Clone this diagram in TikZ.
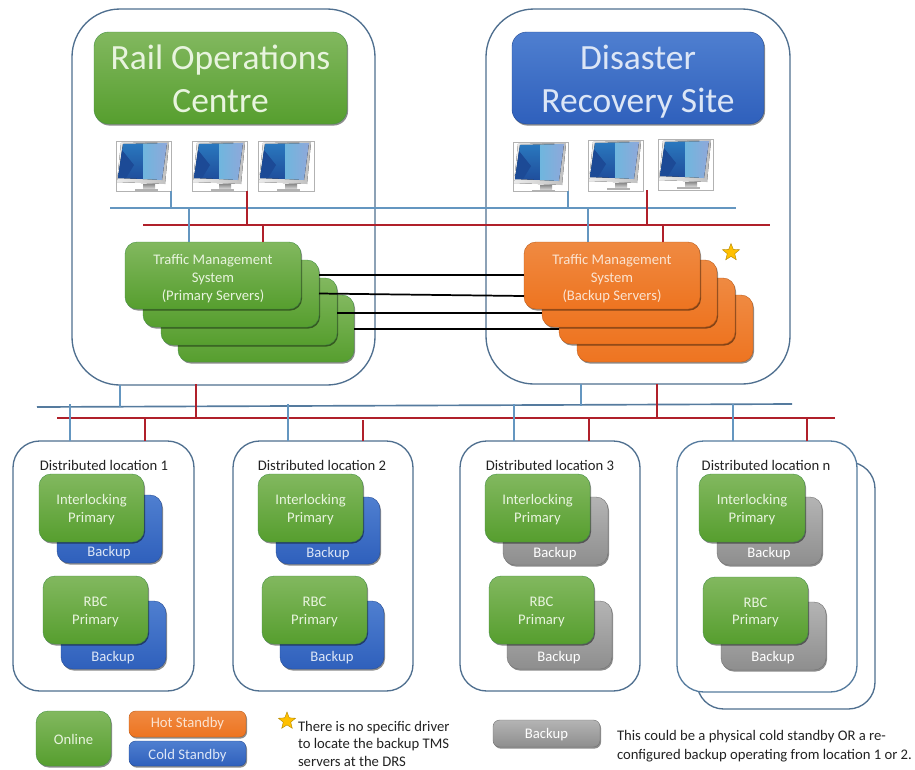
\documentclass[tikz,border=0pt]{standalone}
\usepackage{fontspec}
\setmainfont{Carlito}
\usetikzlibrary{shadows,shapes.geometric}
\definecolor{edgeb}{HTML}{4F6F8F}
\definecolor{busblue}{HTML}{6496C0}
\definecolor{busred}{HTML}{B0202A}
\definecolor{gtxt}{HTML}{E8F4DE}
\definecolor{otxt}{HTML}{FBE3D0}
\definecolor{btxt}{HTML}{DCE6F6}
\definecolor{dtxt}{HTML}{222222}
\definecolor{green1}{HTML}{82B85F}
\definecolor{green2}{HTML}{569E2E}
\definecolor{orange1}{HTML}{EF8A42}
\definecolor{orange2}{HTML}{EE7420}
\definecolor{blue1}{HTML}{4F7FD0}
\definecolor{blue2}{HTML}{2F60BC}
\definecolor{gray1}{HTML}{B4B4B4}
\definecolor{gray2}{HTML}{8E8E8E}
\definecolor{gold}{HTML}{FFC000}
\definecolor{scrA}{HTML}{2A78BE}
\definecolor{scrB}{HTML}{1F4E9C}
\definecolor{scrC}{HTML}{6FB6DE}
\definecolor{scrD}{HTML}{8FA8DA}
\definecolor{scrE}{HTML}{1C4A96}
\tikzset{
  x=0.75pt,y=-0.75pt,
  base/.style={rounded corners=9pt,inner sep=0pt,outer sep=0pt,align=center,
    drop shadow={shadow xshift=0.8pt,shadow yshift=-1.2pt,opacity=0.45,fill=black}},
  green/.style={base,draw=black!35!green!45!gray,line width=0.3pt,top color=green1,bottom color=green2,text=gtxt},
  orange/.style={base,draw=orange2!80!black,line width=0.3pt,top color=orange1,bottom color=orange2,text=otxt},
  cblue/.style={base,draw=blue2!80!black,line width=0.3pt,top color=blue1,bottom color=blue2,text=btxt},
  cgray/.style={base,draw=gray2!80!black,line width=0.3pt,top color=gray1,bottom color=gray2,text=white},
  site/.style={draw=edgeb,line width=1pt,rounded corners=36pt,fill=white,inner sep=0pt,outer sep=0pt},
  loc/.style={draw=edgeb,line width=1pt,rounded corners=20pt,fill=white,inner sep=0pt,outer sep=0pt},
  bblue/.style={draw=busblue,line width=1.25pt},
  bred/.style={draw=busred,line width=1.25pt},
  tie/.style={draw=black,line width=1.3pt},
  lab/.style={inner sep=0pt,outer sep=0pt,align=center},
  monframe/.style={draw=black!30,line width=0.4pt,fill=white,inner sep=0pt,outer sep=0pt},
  starn/.style={star,star points=5,star point ratio=2.3,fill=gold,draw=gold!70!black,line width=0.3pt,minimum size=13.5pt,inner sep=0pt},
  tfont/.style={font=\fontsize{26.6}{32.5}\selectfont},
  mfont/.style={font=\fontsize{11}{13.5}\selectfont},
  sfont/.style={font=\fontsize{11}{13}\selectfont},
}
\newcommand\bx[7]{\node[#6,minimum width={(#4-#2)*0.75pt},minimum height={(#5-#3)*0.75pt}] (#1) at ({(#2+#4)/2},{(#3+#5)/2}) {#7};}
\newcommand\vlink[4]{\draw[#1] ([xshift=#3*0.75pt]#2) -- ([xshift=#3*0.75pt]#2 |- #4);}
\newcommand\tsup{\rule{0pt}{25.5pt}}
\newcommand\tsdn{\rule[-6.5pt]{0pt}{0pt}}
\newcommand\msup{\rule{0pt}{15pt}}
\newcommand\isup{\rule{0pt}{13pt}}
\newcommand\msdn{\rule[-4.5pt]{0pt}{0pt}}
\newcommand\monitor[5]{%
  \bx{#1}{#2}{#3}{#4}{#5}{monframe}{}
  \begin{scope}[shift={(#1.north west)}]
    \fill[left color=black!8,right color=black!25] (5,2) -- (53,1) -- (49,43) -- (1,41) -- cycle;
    \fill[top color=black!45,bottom color=black!20] (27,43) -- (39,43) -- (39,47) -- (27,47) -- cycle;
    \fill[black!30] (19,48) -- (42,48) -- (42,49.5) -- (19,49.5) -- cycle;
    \fill[top color=scrA,bottom color=scrB] (7,3) -- (27,2.6) -- (27,38) -- (2,37) -- cycle;
    \fill[left color=scrC,right color=scrD] (27,2.6) -- (51,2) -- (46,39) -- (27,38) -- cycle;
    \fill[scrE] (6,9) -- (18,24) -- (10,37.2) -- (2.2,37) -- cycle;
  \end{scope}}
\begin{document}
\begin{tikzpicture}
\useasboundingbox (0,0) rectangle (915,769);
% sites
\bx{roc}{72}{9}{375}{385}{site}{}
\bx{drs}{486}{9}{790}{384}{site}{}
\bx{roct}{94}{32}{347}{124}{green,rounded corners=11pt,tfont}{\tsup Rail Operations\\Centre\tsdn}
\bx{drst}{512}{32}{764}{124}{cblue,rounded corners=11pt,tfont}{\tsup Disaster\\Recovery Site\tsdn}
% monitors
\monitor{ma}{116}{141}{171}{191}
\monitor{mb}{192}{141}{247}{191}
\monitor{mc}{258}{141}{314}{191}
\monitor{md}{513}{142}{568}{191}
\monitor{me}{588}{140}{643}{191}
\monitor{mf}{658}{139}{713}{190}
% upper buses
\coordinate (btl) at (110,208);
\coordinate (btr) at (736,208);
\coordinate (rtl) at (143,225);
\coordinate (rtr) at (770,225);
\draw[bblue] (btl) -- (btr);
\draw[bred] (rtl) -- (rtr);
\vlink{bblue}{ma.south east}{0}{btl}
\vlink{bred}{mb.south east}{0}{rtl}
\vlink{bblue}{md.south east}{0}{btl}
\coordinate (mfr) at (647,190);
\draw[bred] (mfr) -- (mfr |- rtl);
% TMS primary
\bx{tpd}{178}{295}{354}{362}{green}{}
\bx{tpc}{161}{278}{337}{345}{green}{}
\bx{tpb}{143}{260}{319}{327}{green}{}
\bx{tpa}{125}{242}{301}{309}{green,mfont}{\msup Traffic Management\\System\\(Primary Servers)\msdn}
% TMS backup
\bx{tbd}{577}{295}{753}{362}{orange}{}
\bx{tbc}{559}{278}{735}{344}{orange}{}
\bx{tbb}{542}{260}{717}{327}{orange}{}
\bx{tba}{524}{242}{700}{309}{orange,mfont}{\msup Traffic Management\\System\\(Backup Servers)\msdn}
\vlink{bblue}{tpa.north west}{64}{btl}
\vlink{bred}{tpa.north west}{138}{rtl}
\vlink{bblue}{tba.north west}{64}{btl}
\vlink{bred}{tba.north west}{139}{rtl}
% ties
\draw[tie] (tpb.east |- 0,275) -- (tba.west |- 0,275);
\draw[tie] (tpb.east |- 0,293.5) -- (tba.west |- 0,296);
\draw[tie] (tpc.east |- 0,313) -- (tbb.west |- 0,313);
\draw[tie] (tpd.east |- 0,329) -- (tbc.west |- 0,329);
\node[starn] (stara) at (731,252.5) {};
% lower buses
\coordinate (bll) at (37,407);
\coordinate (blr) at (792,404);
\coordinate (rll) at (57,418);
\coordinate (rlr) at (835,418);
\coordinate (bup) at (0,404);
\coordinate (drsb) at (581,405.5);
\draw[bblue,draw=edgeb!70!busblue] (bll) -- (blr);
\draw[bred] (rll) -- (rlr);
\vlink{bblue}{roc.south west}{48}{bll}
\draw[bblue] (drsb |- drs.south) -- (drsb);
\vlink{bred}{drs.south west}{171}{rll}
% locations
\bx{la}{13}{441}{194}{691}{loc}{}
\bx{lb}{233}{441}{413}{691}{loc}{}
\bx{lc}{460}{441}{640}{691}{loc}{}
\bx{ldb}{697}{462}{875}{709}{loc}{}
\bx{ld}{677}{441}{857}{692}{loc,draw=edgeb!70!busblue}{}
\vlink{bblue}{la.north west}{57}{bup}
\vlink{bred}{la.north west}{132}{rll}
\vlink{bblue}{lb.north west}{55}{bup}
\coordinate (lbr) at (363,420);
\draw[bred] (lb.north -| lbr) -- (lbr);
\vlink{bblue}{lc.north west}{54}{bup}
\vlink{bred}{lc.north west}{129}{rll}
\vlink{bblue}{ld.north west}{56}{bup}
\vlink{bred}{ld.north west}{130}{rll}
\node[lab,text=dtxt,sfont] (la0) at (104,465) {Distributed location 1};
\node[lab,text=dtxt,sfont] (lb0) at (322,465) {Distributed location 2};
\node[lab,text=dtxt,sfont] (lc0) at (550,465) {Distributed location 3};
\node[lab,text=dtxt,sfont] (ld0) at (766,465) {Distributed location n};
% location 1
\tikzset{ilk/.style={green,font=\fontsize{11}{13.2}\selectfont},bk/.style={lab,text=btxt,sfont},bg/.style={lab,text=white,sfont}}
\newcommand\ipt{\isup Interlocking\\Primary\msdn}
\newcommand\rpt{\isup RBC\\Primary\msdn}
\bx{la1b}{57}{495}{162}{563}{cblue}{}
\node[bk] (la1t) at (109,553) {Backup};
\bx{la1}{39}{474}{144}{542}{ilk}{\ipt}
\bx{la2b}{61}{601}{166}{669}{cblue}{}
\node[bk] (la2t) at (113,658) {Backup};
\bx{la2}{43}{576}{148}{644}{ilk}{\rpt}
% location 2
\bx{lb1b}{276}{497}{380}{564}{cblue}{}
\node[bk] (lb1t) at (328,554) {Backup};
\bx{lb1}{258}{474}{363}{542}{ilk}{\ipt}
\bx{lb2b}{280}{601}{384}{669}{cblue}{}
\node[bk] (lb2t) at (332,658) {Backup};
\bx{lb2}{262}{576}{367}{644}{ilk}{\rpt}
% location 3
\bx{lc1b}{503}{497}{608}{565}{cgray}{}
\node[bg] (lc1t) at (555,554) {Backup};
\bx{lc1}{485}{474}{590}{542}{ilk}{\ipt}
\bx{lc2b}{507}{601}{612}{669}{cgray}{}
\node[bg] (lc2t) at (559,658) {Backup};
\bx{lc2}{489}{576}{594}{644}{ilk}{\rpt}
% location n
\bx{ld1b}{717}{497}{822}{565}{cgray}{}
\node[bg] (ld1t) at (769,554) {Backup};
\bx{ld1}{699}{474}{805}{542}{ilk}{\ipt}
\bx{ld2b}{721}{602}{826}{670}{cgray}{}
\node[bg] (ld2t) at (773,658) {Backup};
\bx{ld2}{703}{577}{808}{644}{ilk}{\rpt}
% legend
\bx{lgon}{36}{711}{111}{766}{green,sfont}{\rule{0pt}{9pt}Online}
\bx{lgho}{129}{711}{246}{737}{orange,rounded corners=5pt,sfont}{Hot Standby}
\bx{lgco}{129}{741}{246}{766}{cblue,rounded corners=5pt,sfont}{\rule{0pt}{10.5pt}Cold Standby}
\bx{lgba}{493}{720}{600}{747}{cgray,rounded corners=5pt,sfont}{\rule{0pt}{9pt}Backup}
\node[starn] (starb) at (287,721) {};
\node[lab,align=left,anchor=north west,text=dtxt,font=\fontsize{11}{13.2}\selectfont] (lgtx) at (298,721) {There is no specific driver\\to locate the backup TMS\\servers  at the DRS};
\node[lab,align=left,anchor=north west,text=dtxt,font=\fontsize{11}{14.2}\selectfont] (lgty) at (617,730) {This could be a physical cold standby OR a re-\\configured backup operating from location 1 or 2.};
% red link from the operations centre to the lower bus
\coordinate (rocr) at (196,384);
\draw[draw=busred,line width=1.25pt] (rocr) -- (rocr |- rll);
\end{tikzpicture}
\end{document}
